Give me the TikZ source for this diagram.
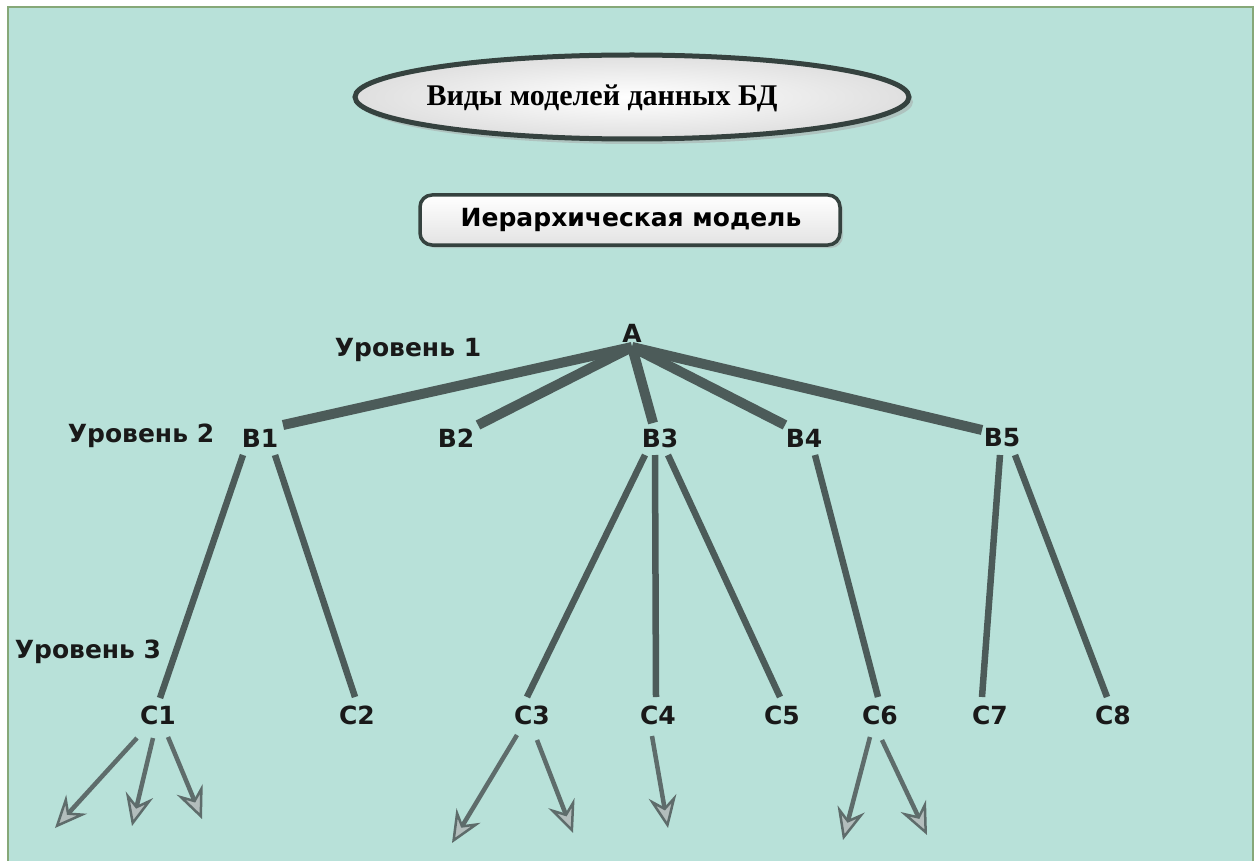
\documentclass[tikz,border=0pt]{standalone}
\usepackage{fontspec}
\setmainfont{DejaVu Sans}
\newfontfamily\titlefont{Liberation Serif}
\usetikzlibrary{arrows.meta,calc,shadows}
\definecolor{panel}{HTML}{B8E1D9}
\definecolor{panelborder}{HTML}{86A878}
\definecolor{linec}{HTML}{4C5B59}
\definecolor{arrc}{HTML}{5E6C6B}
\definecolor{tipfill}{HTML}{B3BDBC}
\definecolor{framec}{HTML}{35423F}
\tikzset{
  lbl/.style={font=\fontsize{25}{28}\selectfont\bfseries, text=black!90, inner sep=2pt},
  thick1/.style={line width=10pt, color=linec},
  thick2/.style={line width=6.5pt, color=linec},
  arr/.style={line width=4.5pt, color=arrc, -{Stealth[length=32pt,width=28pt,inset=11pt,fill=tipfill,line width=2.5pt]}},
}
\begin{document}
\begin{tikzpicture}[x=1pt,y=-1pt]
\useasboundingbox (0,0) rectangle (1258,861);
\fill[white] (0,0) rectangle (1258,861);
\fill[panel] (7,6) rectangle (1254,861);
\draw[panelborder, line width=2.5pt] (8,861) -- (8,7) -- (1253,7) -- (1253,861);
% title ellipse
\fill[black!35, opacity=0.5] (636,102) ellipse [x radius=277, y radius=42];
\shade[inner color=white, outer color=gray!25] (632,97) ellipse [x radius=277, y radius=42];
\draw[framec, line width=5pt] (632,97) ellipse [x radius=277, y radius=42];
\node (title) at (602,98) {\titlefont\fontsize{30}{34}\selectfont\bfseries Виды моделей данных БД};
% model box
\fill[black!35, opacity=0.5, rounded corners=12pt] (423,198) rectangle (843,248);
\shade[top color=white, bottom color=gray!22, rounded corners=12pt] (420,195) rectangle (840,245);
\draw[framec, line width=3.5pt, rounded corners=12pt] (420,195) rectangle (840,245);
\node[font=\fontsize{25}{28}\selectfont\bfseries] (model) at (631,220) {Иерархическая модель};
% level labels
\node[lbl] (l1) at (408,350) {Уровень 1};
\node[lbl] (l2) at (141,436) {Уровень 2};
\node[lbl] (l3) at (88,652) {Уровень 3};
% nodes
\node[lbl] (A) at (632,333) {A};
\node[lbl] (B1) at (260,438) {B1};
\node[lbl] (B2) at (456,438) {B2};
\node[lbl] (B3) at (660,438) {B3};
\node[lbl] (B4) at (804,438) {B4};
\node[lbl] (B5) at (1002,438) {B5};
\node[lbl] (C1) at (158,715) {C1};
\node[lbl] (C2) at (357,715) {C2};
\node[lbl] (C3) at (532,715) {C3};
\node[lbl] (C4) at (658,715) {C4};
\node[lbl] (C5) at (782,715) {C5};
\node[lbl] (C6) at (880,715) {C6};
\node[lbl] (C7) at (990,715) {C7};
\node[lbl] (C8) at (1113,715) {C8};
% level 1 -> 2
\draw[thick1] ($(A)+(0,14)$) -- ($(B1)+(23,-13)$);
\draw[thick1] ($(A)+(0,14)$) -- ($(B2)+(22,-13)$);
\draw[thick1] ($(A)+(0,14)$) -- ($(B3)+(-7,-15)$);
\draw[thick1] ($(A)+(0,14)$) -- ($(B4)+(-19,-13)$);
\draw[thick1] ($(A)+(0,14)$) -- ($(B5)+(-20,-8)$);
% level 2 -> 3
\draw[thick2] ($(B1)+(-17,17)$) -- ($(C1)+(2,-17)$);
\draw[thick2] ($(B1)+(15,17)$) -- ($(C2)+(-2,-18)$);
\draw[thick2] ($(B3)+(-15,17)$) -- ($(C3)+(-5,-18)$);
\draw[thick2] ($(B3)+(-5,17)$) -- ($(C4)+(-2,-18)$);
\draw[thick2] ($(B3)+(8,17)$) -- ($(C5)+(-2,-18)$);
\draw[thick2] ($(B4)+(11,17)$) -- ($(C6)+(-2,-18)$);
\draw[thick2] ($(B5)+(-2,17)$) -- ($(C7)+(-8,-18)$);
\draw[thick2] ($(B5)+(13,17)$) -- ($(C8)+(-6,-18)$);
% free ends
\coordinate (c1a) at (55,828);
\coordinate (c1b) at (132,826);
\coordinate (c1c) at (202,819);
\coordinate (c3a) at (452,843);
\coordinate (c3b) at (573,833);
\coordinate (c4a) at (668,828);
\coordinate (c6a) at (843,840);
\coordinate (c6b) at (927,835);
\draw[arr] ($(C1)+(-21,23)$) -- (c1a);
\draw[arr] ($(C1)+(-5,23)$) -- (c1b);
\draw[arr] ($(C1)+(10,22)$) -- (c1c);
\draw[arr] ($(C3)+(-15,20)$) -- (c3a);
\draw[arr] ($(C3)+(5,25)$) -- (c3b);
\draw[arr] ($(C4)+(-6,21)$) -- (c4a);
\draw[arr] ($(C6)+(-10,22)$) -- (c6a);
\draw[arr] ($(C6)+(2,25)$) -- (c6b);
\end{tikzpicture}
\end{document}
